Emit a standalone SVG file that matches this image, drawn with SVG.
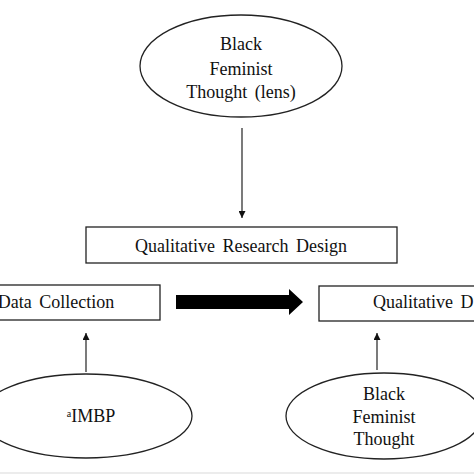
<svg xmlns="http://www.w3.org/2000/svg" width="474" height="474" viewBox="0 0 474 474">
<defs>
<style>
.shape{fill:#fff;stroke:#222;stroke-width:1.3}
.t{font-family:'Liberation Serif','Tinos','Times New Roman','DejaVu Serif',serif;font-size:18px;fill:#111;text-anchor:middle;word-spacing:3px}
.ln{stroke:#222;stroke-width:1.2;fill:none}
</style>
<marker id="ah" viewBox="0 0 10 10" refX="10" refY="5" markerWidth="7" markerHeight="7" markerUnits="userSpaceOnUse" orient="auto">
<path d="M0,0 L10,5 L0,10 z" fill="#111"/>
</marker>
</defs>
<rect width="474" height="474" fill="#fff"/>
<rect x="0" y="472" width="474" height="2" fill="#ececec"/>
<g id="bft-lens">
<ellipse class="shape" cx="241" cy="66" rx="101" ry="51"/>
<text class="t" x="241" y="50" font-family="Liberation Serif, serif">Black</text>
<text class="t" x="241" y="75" font-family="Liberation Serif, serif">Feminist</text>
<text class="t" x="241" y="98" font-family="Liberation Serif, serif">Thought  (lens)</text>
</g>
<g id="qrd">
<rect class="shape" x="86" y="227" width="311" height="36"/>
<text class="t" x="241" y="252" font-family="Liberation Serif, serif">Qualitative  Research  Design</text>
</g>
<g id="data-collection">
<rect class="shape" x="-10" y="285" width="170" height="35"/>
<text class="t" x="56" y="308" font-family="Liberation Serif, serif">Data Collection</text>
</g>
<g id="qual-d">
<rect class="shape" x="319" y="286" width="170" height="35"/>
<text class="t" x="373" y="308" font-family="Liberation Serif, serif" style="text-anchor:start">Qualitative  D</text>
</g>
<g id="imbp">
<ellipse class="shape" cx="86" cy="416" rx="106" ry="42"/>
<text class="t" x="91" y="422" font-family="Liberation Serif, serif"><tspan font-size="10" dy="-5">a</tspan><tspan dy="5">IMBP</tspan></text>
</g>
<g id="bft">
<ellipse class="shape" cx="384" cy="416" rx="98" ry="43"/>
<text class="t" x="384" y="400" font-family="Liberation Serif, serif">Black</text>
<text class="t" x="384" y="423" font-family="Liberation Serif, serif">Feminist</text>
<text class="t" x="384" y="445" font-family="Liberation Serif, serif">Thought</text>
</g>
<g id="connectors">
<line class="ln" x1="242" y1="128" x2="242" y2="218" marker-end="url(#ah)"/>
<line class="ln" x1="86" y1="372" x2="86" y2="333" marker-end="url(#ah)"/>
<line class="ln" x1="377" y1="370" x2="377" y2="333" marker-end="url(#ah)"/>
<path d="M176,295 L289,295 L289,289 L303,302 L289,315 L289,309 L176,309 Z" fill="#000"/>
</g>
</svg>
